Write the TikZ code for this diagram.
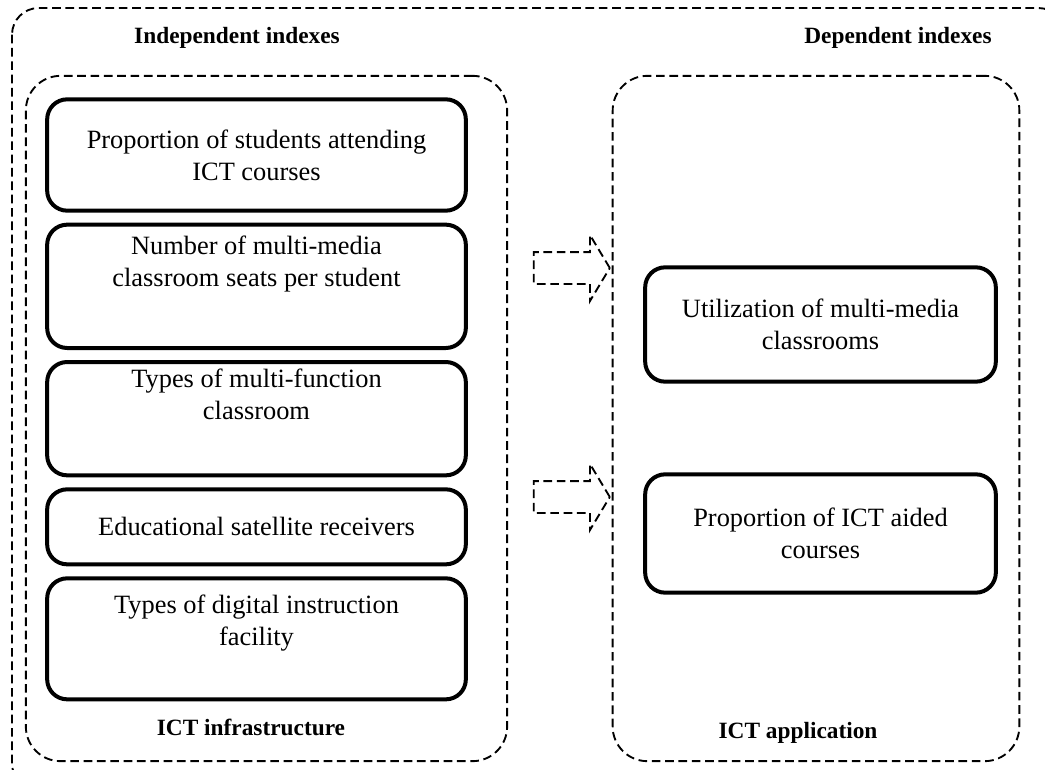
\documentclass[tikz,border=0pt]{standalone}
\usepackage{fontspec}
\setmainfont{Liberation Serif}
\usetikzlibrary{positioning,shapes.arrows}

\begin{document}
\begin{tikzpicture}[x=0.75pt, y=-0.75pt, node distance=7.5pt,
    dashline/.style = {line width=1.4pt, dash pattern=on 6.5pt off 3.5pt},
    frame/.style = {draw, dashline, rounded corners=26pt},
    main/.style = {draw, line width=3pt, rectangle, rounded corners=15pt, align=center,
                   font=\fontsize{19.8}{24}\selectfont, minimum width=314pt},
    side/.style = {main, minimum width=263pt},
    head/.style = {font=\fontsize{17.5}{24}\selectfont\bfseries},
    pointer/.style = {draw, dashline, single arrow, inner xsep=0pt, inner ysep=11.25pt, minimum height=57pt,
                      single arrow head extend=12.75pt, single arrow tip angle=118, anchor=center}]
    \useasboundingbox (0,0) rectangle (1045,770);

    % outer frame runs past the page edge
    \draw[dashline, rounded corners=20pt] (12,8) rectangle (1065,790);
    \node[head] (indep) at (237,38) {Independent indexes};
    \node[head] (dep) at (898,38) {Dependent indexes};

    % the two groups
    \node[frame, minimum width=361pt, minimum height=514pt] (left) at (266.5,418.5) {};
    \node[frame, minimum width=305pt, minimum height=514pt] (right) at (816,418.5) {};
    \node[head] (infra) at (251,727) {ICT infrastructure};
    \node[head] (app) at (798,733) {ICT application};

    % infrastructure indexes
    \node[main, minimum height=83.5pt] (1) at (256.5,155) {Proportion of students attending\\ICT courses};
    \node[main, minimum height=92.5pt, text depth=37pt] (2) [below=of 1] {Number of multi-media\\classroom seats per student};
    \node[main, minimum height=85pt, text depth=36pt] (3) [below=of 2] {Types of multi-function\\classroom};
    \node[main, minimum height=56.25pt] (4) [below=of 3] {Educational satellite receivers};
    \node[main, minimum height=90.75pt, text depth=27.5pt] (5) [below=of 4] {Types of digital instruction\\facility};

    % application indexes
    \node[side, minimum height=85.75pt] (6) at (820.5,324.5) {Utilization of multi-media\\classrooms};
    \node[side, minimum height=88.75pt] (7) at (820.5,533.5) {Proportion of ICT aided\\courses};

    % block arrows between the groups
    \node[pointer] (a1) at (567,268) {};
    \node[pointer] (a2) at (567,497) {};
\end{tikzpicture}
\end{document}
